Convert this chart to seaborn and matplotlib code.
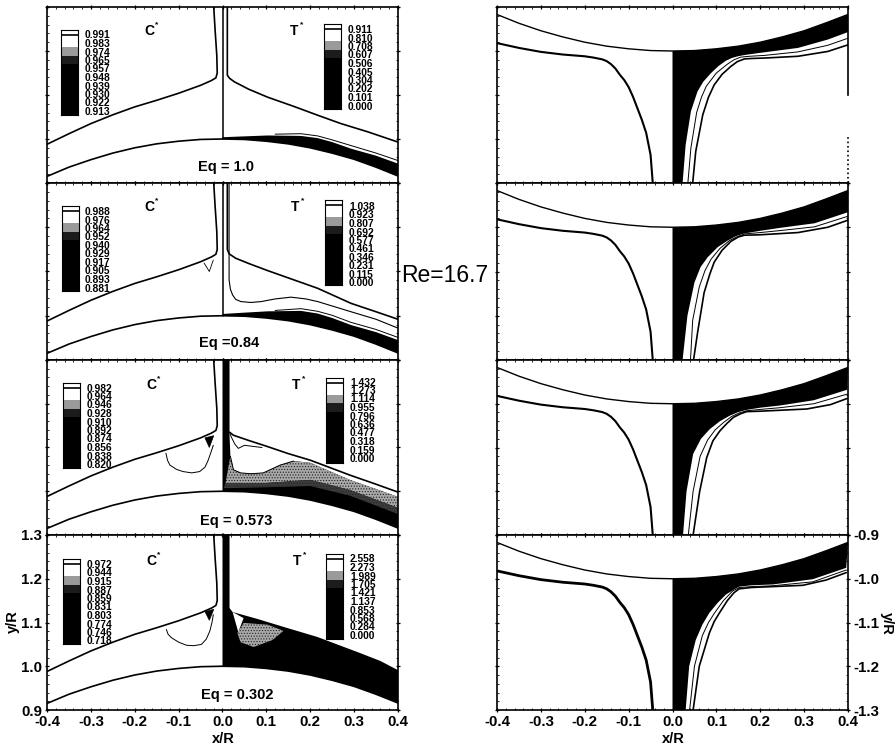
#!/usr/bin/env python3
import matplotlib
matplotlib.use('Agg')
import matplotlib.pyplot as plt
from matplotlib.colors import ListedColormap
from matplotlib.ticker import MultipleLocator
import numpy as np
import seaborn as sns

W, H = 896, 751

# pared del cilindro
wall_x = [-0.4, -0.35, -0.3, -0.25, -0.2, -0.15, -0.1, -0.05, 0.0, 0.05, 0.1, 0.15, 0.2, 0.25, 0.3, 0.35, 0.4]
wall_y = [0.915, 0.936, 0.953, 0.968, 0.98, 0.989, 0.995, 0.999, 1.0, 0.999, 0.995, 0.989, 0.98, 0.968, 0.954, 0.936, 0.916]
rwall_y = [-0.917, -0.937, -0.954, -0.968, -0.98, -0.989, -0.995, -0.999, -1.0, -0.999, -0.995, -0.989, -0.98, -0.968, -0.954, -0.936, -0.917]

# frente de llama lado C
flameC_x = [-0.4, -0.35, -0.3, -0.25, -0.2, -0.15, -0.1, -0.05, -0.025, -0.015, -0.012, -0.013, -0.017, -0.02]
flameC_y = [0.988, 1.012, 1.035, 1.055, 1.073, 1.088, 1.104, 1.122, 1.133, 1.139, 1.15, 1.19, 1.25, 1.3]

# fila 1
flameT1_x = [0.011, 0.011, 0.016, 0.027, 0.06, 0.103, 0.16, 0.217, 0.27, 0.332, 0.4]
flameT1_y = [1.3, 1.145, 1.138, 1.13, 1.113, 1.095, 1.075, 1.054, 1.035, 1.016, 0.993]
band1_x = [0.0, 0.05, 0.103, 0.179, 0.217, 0.25, 0.293, 0.35, 0.4]
band1_y = [1.004, 1.006, 1.008, 1.007, 1.002, 0.993, 0.978, 0.962, 0.944]
thin1_x = [0.12, 0.179, 0.217, 0.25, 0.293, 0.35, 0.4]
thin1_y = [1.011, 1.012, 1.007, 0.998, 0.985, 0.968, 0.951]

# fila 2
flameT2_x = [0.011, 0.011, 0.015, 0.03, 0.06, 0.103, 0.16, 0.217, 0.293, 0.35, 0.4]
flameT2_y = [1.3, 1.15, 1.14, 1.13, 1.118, 1.102, 1.082, 1.062, 1.028, 1.009, 0.992]
band2_y = [1.004, 1.007, 1.01, 1.011, 1.005, 0.995, 0.979, 0.963, 0.945]
thin2_y = [1.012, 1.016, 1.01, 1.001, 0.985, 0.969, 0.951]
inner2_x = [0.015, 0.015, 0.018, 0.023, 0.03, 0.042, 0.065, 0.088, 0.12, 0.156, 0.19, 0.217, 0.293, 0.35, 0.4]
inner2_y = [1.3, 1.081, 1.06, 1.047, 1.037, 1.032, 1.03, 1.032, 1.038, 1.042, 1.038, 1.032, 1.009, 0.992, 0.972]
tri2_x = [-0.042, -0.03, -0.021]
tri2_y = [1.119, 1.1, 1.126]

# fila 3
flameT3_x = [0.016, 0.025, 0.06, 0.1, 0.15, 0.2, 0.29, 0.35, 0.4]
flameT3_y = [1.135, 1.128, 1.116, 1.103, 1.086, 1.071, 1.037, 1.016, 0.998]
top3_x = [0.016, 0.016, 0.018, 0.025, 0.041, 0.065, 0.093, 0.132, 0.162, 0.2, 0.29, 0.35, 0.4]
top3_y = [1.3, 1.13, 1.08, 1.049, 1.042, 1.04, 1.042, 1.06, 1.069, 1.065, 1.026, 1.005, 0.987]
low3_x = [0.007, 0.1, 0.2, 0.29, 0.4]
low3_y = [1.019, 1.019, 1.026, 1.003, 0.962]
dark3_x = [0.003, 0.1, 0.2, 0.29, 0.4]
dark3_y = [1.007, 1.009, 1.012, 0.99, 0.948]
loop3_x = [0.017, 0.022, 0.028, 0.036, 0.05, 0.09]
loop3_y = [1.131, 1.12, 1.108, 1.098, 1.105, 1.1]
loopC3_x = [-0.129, -0.125, -0.12, -0.105, -0.09, -0.07, -0.052, -0.04, -0.033, -0.026, -0.021]
loopC3_y = [1.087, 1.07, 1.06, 1.05, 1.045, 1.042, 1.045, 1.055, 1.07, 1.09, 1.105]
triC3_x = [-0.04, -0.03, -0.02]
triC3_y = [1.122, 1.1, 1.127]

# fila 4
top4_x = [0.016, 0.016, 0.023, 0.08, 0.139, 0.216, 0.314, 0.36, 0.4]
top4_y = [1.3, 1.133, 1.124, 1.108, 1.09, 1.067, 1.03, 1.012, 0.991]
patch4_x = [0.034, 0.048, 0.103, 0.139, 0.114, 0.071, 0.041]
patch4_y = [1.076, 1.099, 1.095, 1.081, 1.06, 1.044, 1.055]
sliver4_x = [0.023, 0.048, 0.036]
sliver4_y = [1.124, 1.11, 1.078]
loopC4_x = [-0.128, -0.124, -0.116, -0.1, -0.082, -0.065, -0.048, -0.037, -0.029, -0.024, -0.021]
loopC4_y = [1.084, 1.073, 1.065, 1.055, 1.048, 1.047, 1.05, 1.062, 1.08, 1.1, 1.118]
triC4_x = [-0.04, -0.03, -0.02]
triC4_y = [1.125, 1.105, 1.13]

# paneles derechos
rflame_x = [-0.4, -0.35, -0.3, -0.25, -0.2, -0.18, -0.16, -0.15, -0.14, -0.13, -0.12, -0.11, -0.1, -0.09, -0.08, -0.07, -0.06, -0.05, -0.045]
rflame_y = [-0.982, -0.993, -1.002, -1.008, -1.012, -1.015, -1.019, -1.023, -1.03, -1.04, -1.054, -1.066, -1.082, -1.104, -1.13, -1.156, -1.186, -1.236, -1.3]

edge1_x = [0.023, 0.03, 0.042, 0.057, 0.07, 0.088, 0.105, 0.122, 0.135, 0.149, 0.165, 0.194, 0.286, 0.354, 0.4]
edge1_y = [-1.3, -1.213, -1.137, -1.092, -1.07, -1.05, -1.034, -1.022, -1.016, -1.012, -1.009, -1.005, -0.993, -0.974, -0.957]
mid1_x = [0.035, 0.042, 0.055, 0.066, 0.077, 0.1, 0.125, 0.14, 0.155, 0.175, 0.21, 0.286, 0.354, 0.4]
mid1_y = [-1.3, -1.22, -1.14, -1.105, -1.08, -1.05, -1.03, -1.02, -1.014, -1.012, -1.01, -1.002, -0.987, -0.971]
out1_x = [0.046, 0.053, 0.069, 0.082, 0.095, 0.113, 0.133, 0.148, 0.164, 0.18, 0.21, 0.286, 0.354, 0.4]
out1_y = [-1.3, -1.228, -1.145, -1.105, -1.077, -1.053, -1.035, -1.024, -1.018, -1.017, -1.016, -1.012, -1.001, -0.986]

edge2_x = [0.023, 0.034, 0.05, 0.064, 0.08, 0.103, 0.126, 0.145, 0.164, 0.2, 0.248, 0.324, 0.4]
edge2_y = [-1.3, -1.2, -1.125, -1.09, -1.068, -1.045, -1.03, -1.02, -1.014, -1.008, -1.001, -0.991, -0.966]
mid2_x = [0.041, 0.046, 0.061, 0.074, 0.088, 0.108, 0.13, 0.148, 0.165, 0.2, 0.25, 0.324, 0.4]
mid2_y = [-1.3, -1.21, -1.135, -1.098, -1.072, -1.048, -1.03, -1.021, -1.015, -1.012, -1.007, -0.999, -0.975]
out2_x = [0.048, 0.057, 0.072, 0.085, 0.095, 0.113, 0.133, 0.15, 0.164, 0.2, 0.286, 0.354, 0.4]
out2_y = [-1.3, -1.239, -1.148, -1.106, -1.079, -1.052, -1.032, -1.022, -1.018, -1.017, -1.012, -1.0, -0.984]

edge3_x = [0.024, 0.032, 0.047, 0.065, 0.085, 0.108, 0.131, 0.15, 0.169, 0.2, 0.245, 0.322, 0.398]
edge3_y = [-1.3, -1.2, -1.115, -1.08, -1.058, -1.04, -1.027, -1.019, -1.014, -1.009, -1.004, -0.992, -0.968]
mid3_x = [0.036, 0.047, 0.063, 0.08, 0.097, 0.116, 0.135, 0.152, 0.169, 0.2, 0.245, 0.322, 0.398]
mid3_y = [-1.3, -1.2, -1.12, -1.083, -1.06, -1.043, -1.029, -1.021, -1.016, -1.013, -1.009, -1.0, -0.978]
out3_x = [0.047, 0.062, 0.078, 0.092, 0.108, 0.124, 0.139, 0.155, 0.169, 0.2, 0.306, 0.36, 0.398]
out3_y = [-1.3, -1.2, -1.123, -1.085, -1.062, -1.045, -1.031, -1.023, -1.018, -1.017, -1.012, -1.002, -0.988]

edge4_x = [0.03, 0.038, 0.053, 0.068, 0.084, 0.103, 0.122, 0.138, 0.152, 0.18, 0.229, 0.32, 0.396]
edge4_y = [-1.3, -1.2, -1.14, -1.105, -1.078, -1.055, -1.036, -1.026, -1.018, -1.015, -1.013, -1.001, -0.975]
mid4_x = [0.039, 0.05, 0.068, 0.082, 0.096, 0.116, 0.137, 0.152, 0.18, 0.229, 0.32, 0.396]
mid4_y = [-1.3, -1.2, -1.13, -1.1, -1.078, -1.05, -1.028, -1.02, -1.018, -1.016, -1.007, -0.98]
out4_x = [0.047, 0.061, 0.084, 0.095, 0.107, 0.125, 0.14, 0.152, 0.18, 0.297, 0.35, 0.396]
out4_y = [-1.3, -1.2, -1.124, -1.098, -1.078, -1.05, -1.032, -1.023, -1.02, -1.015, -1.003, -0.986]

# niveles de las leyendas
levelsC1 = ['0.991', '0.983', '0.974', '0.965', '0.957', '0.948', '0.939', '0.930', '0.922', '0.913']
levelsT1 = ['0.911', '0.810', '0.708', '0.607', '0.506', '0.405', '0.304', '0.202', '0.101', '0.000']
levelsC2 = ['0.988', '0.976', '0.964', '0.952', '0.940', '0.929', '0.917', '0.905', '0.893', '0.881']
levelsT2 = ['1.038', '0.923', '0.807', '0.692', '0.577', '0.461', '0.346', '0.231', '0.115', '0.000']
levelsC3 = ['0.982', '0.964', '0.946', '0.928', '0.910', '0.892', '0.874', '0.856', '0.838', '0.820']
levelsT3 = ['1.432', '1.273', '1.114', '0.955', '0.796', '0.636', '0.477', '0.318', '0.159', '0.000']
levelsC4 = ['0.972', '0.944', '0.915', '0.887', '0.859', '0.831', '0.803', '0.774', '0.746', '0.718']
levelsT4 = ['2.558', '2.273', '1.989', '1.705', '1.421', '1.137', '0.853', '0.568', '0.284', '0.000']
band_index = [0, 0, 1, 2, 3, 3, 3, 3, 3, 3]
eq_labels = ['Eq = 1.0', 'Eq =0.84', 'Eq = 0.573', 'Eq = 0.302']
xtick_labels = ['-0.4', '-0.3', '-0.2', '-0.1', '0.0', '0.1', '0.2', '0.3', '0.4']

sns.set_theme(style='white')
plt.rcParams['font.family'] = ['Liberation Sans', 'DejaVu Sans']
plt.rcParams['hatch.linewidth'] = 0.5

fig = plt.figure(figsize=(W / 100, H / 100), dpi=100, facecolor='white')


def px_axes(x0, y0, x1, y1):
    # rectangulo en pixeles de la imagen
    return fig.add_axes([x0 / W, 1 - y1 / H, (x1 - x0) / W, (y1 - y0) / H])


def txt(x, y, s, size=7.4, ha='left', rot=0, weight='bold'):
    fig.text(x / W, 1 - y / H, s, fontsize=size, ha=ha, va='center', rotation=rot,
             fontweight=weight, color='black')


def curve(ax, xs, ys, lw=1.2, color='black', **kw):
    sns.lineplot(x=xs, y=ys, ax=ax, sort=False, estimator=None, color=color, linewidth=lw, **kw)


def black_fill(ax, top_x, top_y):
    # de la curva superior a la pared, solo x >= 0
    xs = list(top_x) + wall_x[:7:-1]
    ys = list(top_y) + wall_y[:7:-1]
    ax.fill(xs, ys, color='black', linewidth=0)


def stipple(ax, xs, ys, face='#a8a8a8'):
    ax.fill(xs, ys, facecolor=face, edgecolor='#222222', hatch='......', linewidth=0)


def dress(ax, ymin, ymax):
    ax.set_xlim(-0.4, 0.4)
    ax.set_ylim(ymin, ymax)
    ax.xaxis.set_major_locator(MultipleLocator(0.1))
    ax.xaxis.set_minor_locator(MultipleLocator(0.02))
    ax.yaxis.set_major_locator(MultipleLocator(0.1))
    ax.yaxis.set_minor_locator(MultipleLocator(0.02))
    ax.tick_params(which='major', direction='inout', length=3.5, width=0.9, top=True, bottom=True,
                   left=True, right=True, labelbottom=False, labelleft=False, color='black')
    ax.tick_params(which='minor', direction='in', length=1.2, width=0.6, top=True, bottom=True,
                   left=True, right=True, color='black')
    for s in ax.spines.values():
        s.set_visible(True)
        s.set_linewidth(1.2)
        s.set_color('black')
    ax.set_facecolor('white')


def legend_bar(x0, y0, levels, lab_x, lab_y0):
    ax = px_axes(x0, y0, x0 + 17, y0 + 85)
    cells = np.array(band_index).reshape(-1, 1)
    sns.heatmap(cells, ax=ax, cbar=False, xticklabels=False, yticklabels=False,
                cmap=ListedColormap(['white', '#9a9a9a', '#1c1c1c', 'black']), vmin=0, vmax=3)
    ax.axhline(0.55, color='black', linewidth=1.2)
    for s in ax.spines.values():
        s.set_visible(True)
        s.set_linewidth(0.8)
        s.set_color('black')
    for i, lev in enumerate(levels):
        txt(lab_x, lab_y0 + i * 8.5, lev)


tops = [7, 183, 360, 535]
bots = [183, 360, 535, 710]
Lx0, Lx1 = 47, 398
Rx0, Rx1 = 497, 848
left_axes = []
right_axes = []

for r in range(4):
    ax = px_axes(Lx0, tops[r], Lx1, bots[r])
    dress(ax, 0.9, 1.3)
    curve(ax, wall_x, wall_y)
    curve(ax, flameC_x, flameC_y)
    if r < 2:
        curve(ax, [0.0, 0.0], [1.0, 1.3], lw=1.1)
    left_axes.append(ax)

# detalle de cada fila
ax = left_axes[0]
curve(ax, flameT1_x, flameT1_y)
black_fill(ax, band1_x, band1_y)
curve(ax, thin1_x, thin1_y, lw=0.7)

ax = left_axes[1]
curve(ax, flameT2_x, flameT2_y)
black_fill(ax, band1_x, band2_y)
curve(ax, thin1_x, thin2_y, lw=0.7)
curve(ax, inner2_x, inner2_y, lw=0.8)
curve(ax, tri2_x, tri2_y, lw=0.6)

ax = left_axes[2]
black_fill(ax, [0.0] + top3_x, [1.3] + top3_y)
stipple(ax, top3_x[2:] + low3_x[::-1], top3_y[2:] + low3_y[::-1])
stipple(ax, low3_x + dark3_x[::-1], low3_y + dark3_y[::-1], face='#3c3c3c')
curve(ax, top3_x[2:9], top3_y[2:9], lw=0.7)
curve(ax, flameT3_x, flameT3_y)
curve(ax, loop3_x, loop3_y, lw=0.7)
curve(ax, loopC3_x, loopC3_y, lw=0.7)
ax.fill(triC3_x, triC3_y, color='black', linewidth=0.5)

ax = left_axes[3]
black_fill(ax, [0.0] + top4_x, [1.3] + top4_y)
stipple(ax, patch4_x, patch4_y)
ax.fill(sliver4_x, sliver4_y, color='white', linewidth=0)
curve(ax, loopC4_x, loopC4_y, lw=0.7)
ax.fill(triC4_x, triC4_y, color='black', linewidth=0.5)

ax.tick_params(which='major', labelbottom=True, labelleft=True, labelsize=10.8, pad=2)
ax.set_xticks(np.arange(-0.4, 0.41, 0.1))
ax.set_xticklabels(xtick_labels, fontweight='bold', color='black')
ax.set_yticks([0.9, 1.0, 1.1, 1.2, 1.3])
ax.set_yticklabels(['0.9', '1.0', '1.1', '1.2', '1.3'], fontweight='bold', color='black')

edges = [(edge1_x, edge1_y), (edge2_x, edge2_y), (edge3_x, edge3_y), (edge4_x, edge4_y)]
mids = [(mid1_x, mid1_y), (mid2_x, mid2_y), (mid3_x, mid3_y), (mid4_x, mid4_y)]
outs = [(out1_x, out1_y), (out2_x, out2_y), (out3_x, out3_y), (out4_x, out4_y)]

for r in range(4):
    ax = px_axes(Rx0, tops[r], Rx1, bots[r])
    dress(ax, -1.3, -0.9)
    curve(ax, wall_x, rwall_y, lw=1.0)
    curve(ax, rflame_x, rflame_y, lw=1.5 if r != 3 else 2.0)
    # region negra entre pared, eje y borde
    ex, ey = edges[r]
    xs = [0.0] + list(ex) + wall_x[:7:-1]
    ys = [-1.3] + list(ey) + rwall_y[:7:-1]
    ax.fill(xs, ys, color='black', linewidth=0)
    curve(ax, mids[r][0], mids[r][1], lw=0.7)
    curve(ax, outs[r][0], outs[r][1], lw=1.2)
    right_axes.append(ax)

# el borde derecho del primer panel casi no se ve abajo
ax = right_axes[0]
ax.spines['right'].set_bounds(-1.1, -0.9)
ax.tick_params(which='both', right=False)
curve(ax, [0.4, 0.4], [-1.3, -1.19], lw=1.2, linestyle=':', clip_on=False)

ax = right_axes[3]
ax.tick_params(which='major', labelbottom=True, labelright=True, labelsize=10.8, pad=2)
ax.set_xticks(np.arange(-0.4, 0.41, 0.1))
ax.set_xticklabels(xtick_labels, fontweight='bold', color='black')
ax.set_yticks([-1.3, -1.2, -1.1, -1.0, -0.9])
ax.set_yticklabels(['-1.3', '-1.2', '-1.1', '-1.0', '-0.9'], fontweight='bold', color='black')

# leyendas
legend_bar(60.5, 30, levelsC1, 85, 35.5)
legend_bar(324, 24, levelsT1, 348, 30)
legend_bar(62, 206, levelsC2, 85, 212)
legend_bar(325, 200, levelsT2, 349, 207)
legend_bar(63, 383, levelsC3, 87, 388.5)
legend_bar(326, 378, levelsT3, 350, 382.5)
legend_bar(63, 559, levelsC4, 87, 565)
legend_bar(326, 554, levelsT4, 350, 559.5)

# textos
eq_x = [226, 229, 236, 237]
eq_y = [167, 343, 521, 695]
for x, y, s in zip(eq_x, eq_y, eq_labels):
    txt(x, y, s, size=10.5, ha='center')

c_y = [31, 207, 385, 561]
c_x = [149, 149, 151, 151]
t_x = [294, 295, 296, 297]
for r in range(4):
    txt(c_x[r], c_y[r], 'C', size=10, ha='center')
    txt(c_x[r] + 8, c_y[r] - 6, '*', size=6, ha='center')
    txt(t_x[r], c_y[r], 'T', size=10, ha='center')
    txt(t_x[r] + 8, c_y[r] - 6, '*', size=6, ha='center')

txt(445, 275, 'Re=16.7', size=16.5, ha='center', weight='normal')
txt(223, 739, 'x/R', size=10.5, ha='center')
txt(13, 622, 'y/R', size=10.5, ha='center', rot=90)
txt(673, 739, 'x/R', size=10.5, ha='center')
txt(887, 623, 'y/R', size=10.5, ha='center', rot=270)

fig.savefig('out.png', dpi=100, facecolor='white')
